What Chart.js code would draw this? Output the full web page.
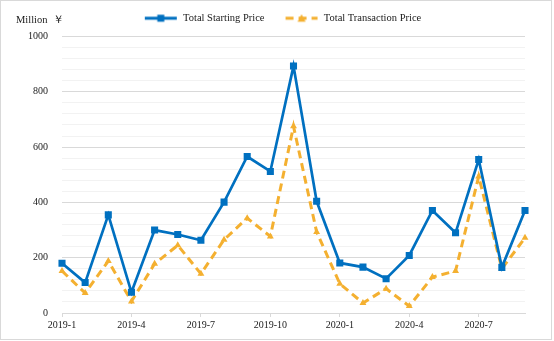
<!DOCTYPE html>
<html>
<head>
<meta charset="utf-8">
<script src="https://cdn.jsdelivr.net/npm/chart.js@4.4.1/dist/chart.umd.min.js"></script>
<style>
  html, body { margin: 0; padding: 0; background: #fff; }
  #wrap { width: 554px; height: 341px; position: relative; }
</style>
</head>
<body>
<div id="wrap"><canvas id="chart" width="554" height="341"></canvas></div>
<script>
// months on the x axis, label shown every 3rd month
const months = [
  "2019-1", "2019-2", "2019-3", "2019-4", "2019-5", "2019-6", "2019-7",
  "2019-8", "2019-9", "2019-10", "2019-11", "2019-12", "2020-1", "2020-2",
  "2020-3", "2020-4", "2020-5", "2020-6", "2020-7", "2020-8", "2020-9"
];
// million yuan
const startingPrice = [180, 110, 355, 75, 300, 284, 263, 401, 566, 512, 893, 404,
  181, 166, 124, 208, 371, 290, 555, 165, 371];
const transactionPrice = [152, 72, 188, 42, 178, 245, 142, 265, 343, 277, 675, 293,
  106, 36, 88, 25, 130, 152, 494, 160, 272];
const yTicks = [0, 200, 400, 600, 800, 1000];

const BLUE = "#0070C0";
const ORANGE = "#F4B030";
const FONT = "'Liberation Serif', 'Times New Roman', serif";
const TEXT = "#1a1a1a";

// Helper to build the little legend sample (line + marker), 3px blank on the left
function legendSample(color, dashed, marker) {
  const c = document.createElement("canvas");
  c.width = 37;
  c.height = 10;
  const ctx = c.getContext("2d");
  ctx.strokeStyle = color;
  ctx.fillStyle = color;
  ctx.lineWidth = 3;
  if (dashed) ctx.setLineDash([8, 5]);
  ctx.beginPath();
  ctx.moveTo(4, 5);
  ctx.lineTo(36, 5);
  ctx.stroke();
  if (marker === "rect") {
    ctx.fillRect(16.5, 1.5, 7, 7);
  } else {
    ctx.beginPath();
    ctx.moveTo(20, 1);
    ctx.lineTo(24, 8.5);
    ctx.lineTo(16, 8.5);
    ctx.closePath();
    ctx.fill();
  }
  return c;
}

// Draw the unit text and the outer frame
const extras = {
  id: "extras",
  beforeLayout(chart) {
    // leave a few more pixels under the legend
    const lg = chart.legend;
    if (lg && !lg._extraGap) {
      const fit = lg.fit;
      lg.fit = function () {
        fit.call(this);
        this.height += 3;
      };
      lg._extraGap = true;
    }
  },
  afterDraw(chart) {
    const ctx = chart.ctx;
    ctx.save();
    ctx.fillStyle = TEXT;
    ctx.font = "10.5px " + FONT;
    ctx.textBaseline = "middle";
    ctx.textAlign = "left";
    ctx.fillText("Million  ￥", 16, 20);
    ctx.strokeStyle = "#d9d9d9";
    ctx.lineWidth = 1;
    ctx.strokeRect(0.5, 0.5, 551, 339);
    ctx.restore();
  }
};

new Chart(document.getElementById("chart"), {
  type: "line",
  data: {
    labels: months,
    datasets: [
      {
        label: "Total Starting Price",
        data: startingPrice,
        borderColor: BLUE,
        backgroundColor: BLUE,
        borderWidth: 2.7,
        pointStyle: "rect",
        pointRadius: 5,
        pointBorderWidth: 0,
        tension: 0
      },
      {
        label: "Total Transaction Price",
        data: transactionPrice,
        borderColor: ORANGE,
        backgroundColor: ORANGE,
        borderWidth: 3,
        borderDash: [8, 5],
        pointStyle: "triangle",
        pointRadius: 4,
        pointBorderWidth: 0,
        tension: 0
      }
    ]
  },
  options: {
    responsive: false,
    animation: false,
    layout: { padding: { top: -4, right: 0, bottom: 0, left: 8 } },
    plugins: {
      tooltip: { enabled: false },
      legend: {
        position: "top",
        labels: {
          color: TEXT,
          font: { family: FONT, size: 10.5 },
          padding: 17,
          usePointStyle: true,
          pointStyleWidth: 37,
          generateLabels(chart) {
            return chart.data.datasets.map((ds, i) => ({
              text: ds.label,
              datasetIndex: i,
              fontColor: TEXT,
              pointStyle: legendSample(ds.borderColor, i === 1, i === 0 ? "rect" : "tri"),
              lineWidth: 0,
              strokeStyle: "transparent",
              fillStyle: "transparent"
            }));
          }
        }
      }
    },
    scales: {
      x: {
        offset: false,
        grid: {
          display: true,
          drawOnChartArea: false,
          drawTicks: true,
          tickLength: 4,
          color: (c) => (c.index % 3 === 0 ? "#d9d9d9" : "rgba(0,0,0,0)")
        },
        border: { display: true, color: "#d9d9d9", width: 1 },
        ticks: {
          autoSkip: false,
          maxRotation: 0,
          padding: 2,
          color: TEXT,
          font: { family: FONT, size: 10 },
          callback: (v, i) => (i % 3 === 0 ? months[i] : "")
        },
        afterFit(scale) { scale.height = 28; }
      },
      y: {
        min: 0,
        max: 1000,
        border: { display: false },
        grid: {
          drawTicks: false,
          color: (c) => (yTicks.includes(c.tick.value) ? "#d9d9d9" : "#f2f2f2"),
          lineWidth: 1
        },
        ticks: {
          stepSize: 40,
          autoSkip: false,
          padding: 14,
          color: TEXT,
          font: { family: FONT, size: 10 },
          callback: (v) => (yTicks.includes(v) ? v : "")
        },
        afterFit(scale) { scale.width = 54; }
      },
      // empty axis on the right, only to keep the plot narrower than the legend box
      yRight: {
        position: "right",
        min: 0,
        max: 1000,
        grid: { display: false },
        border: { display: false },
        ticks: { display: false },
        afterFit(scale) { scale.width = 29; }
      }
    }
  },
  plugins: [extras]
});
</script>
</body>
</html>
